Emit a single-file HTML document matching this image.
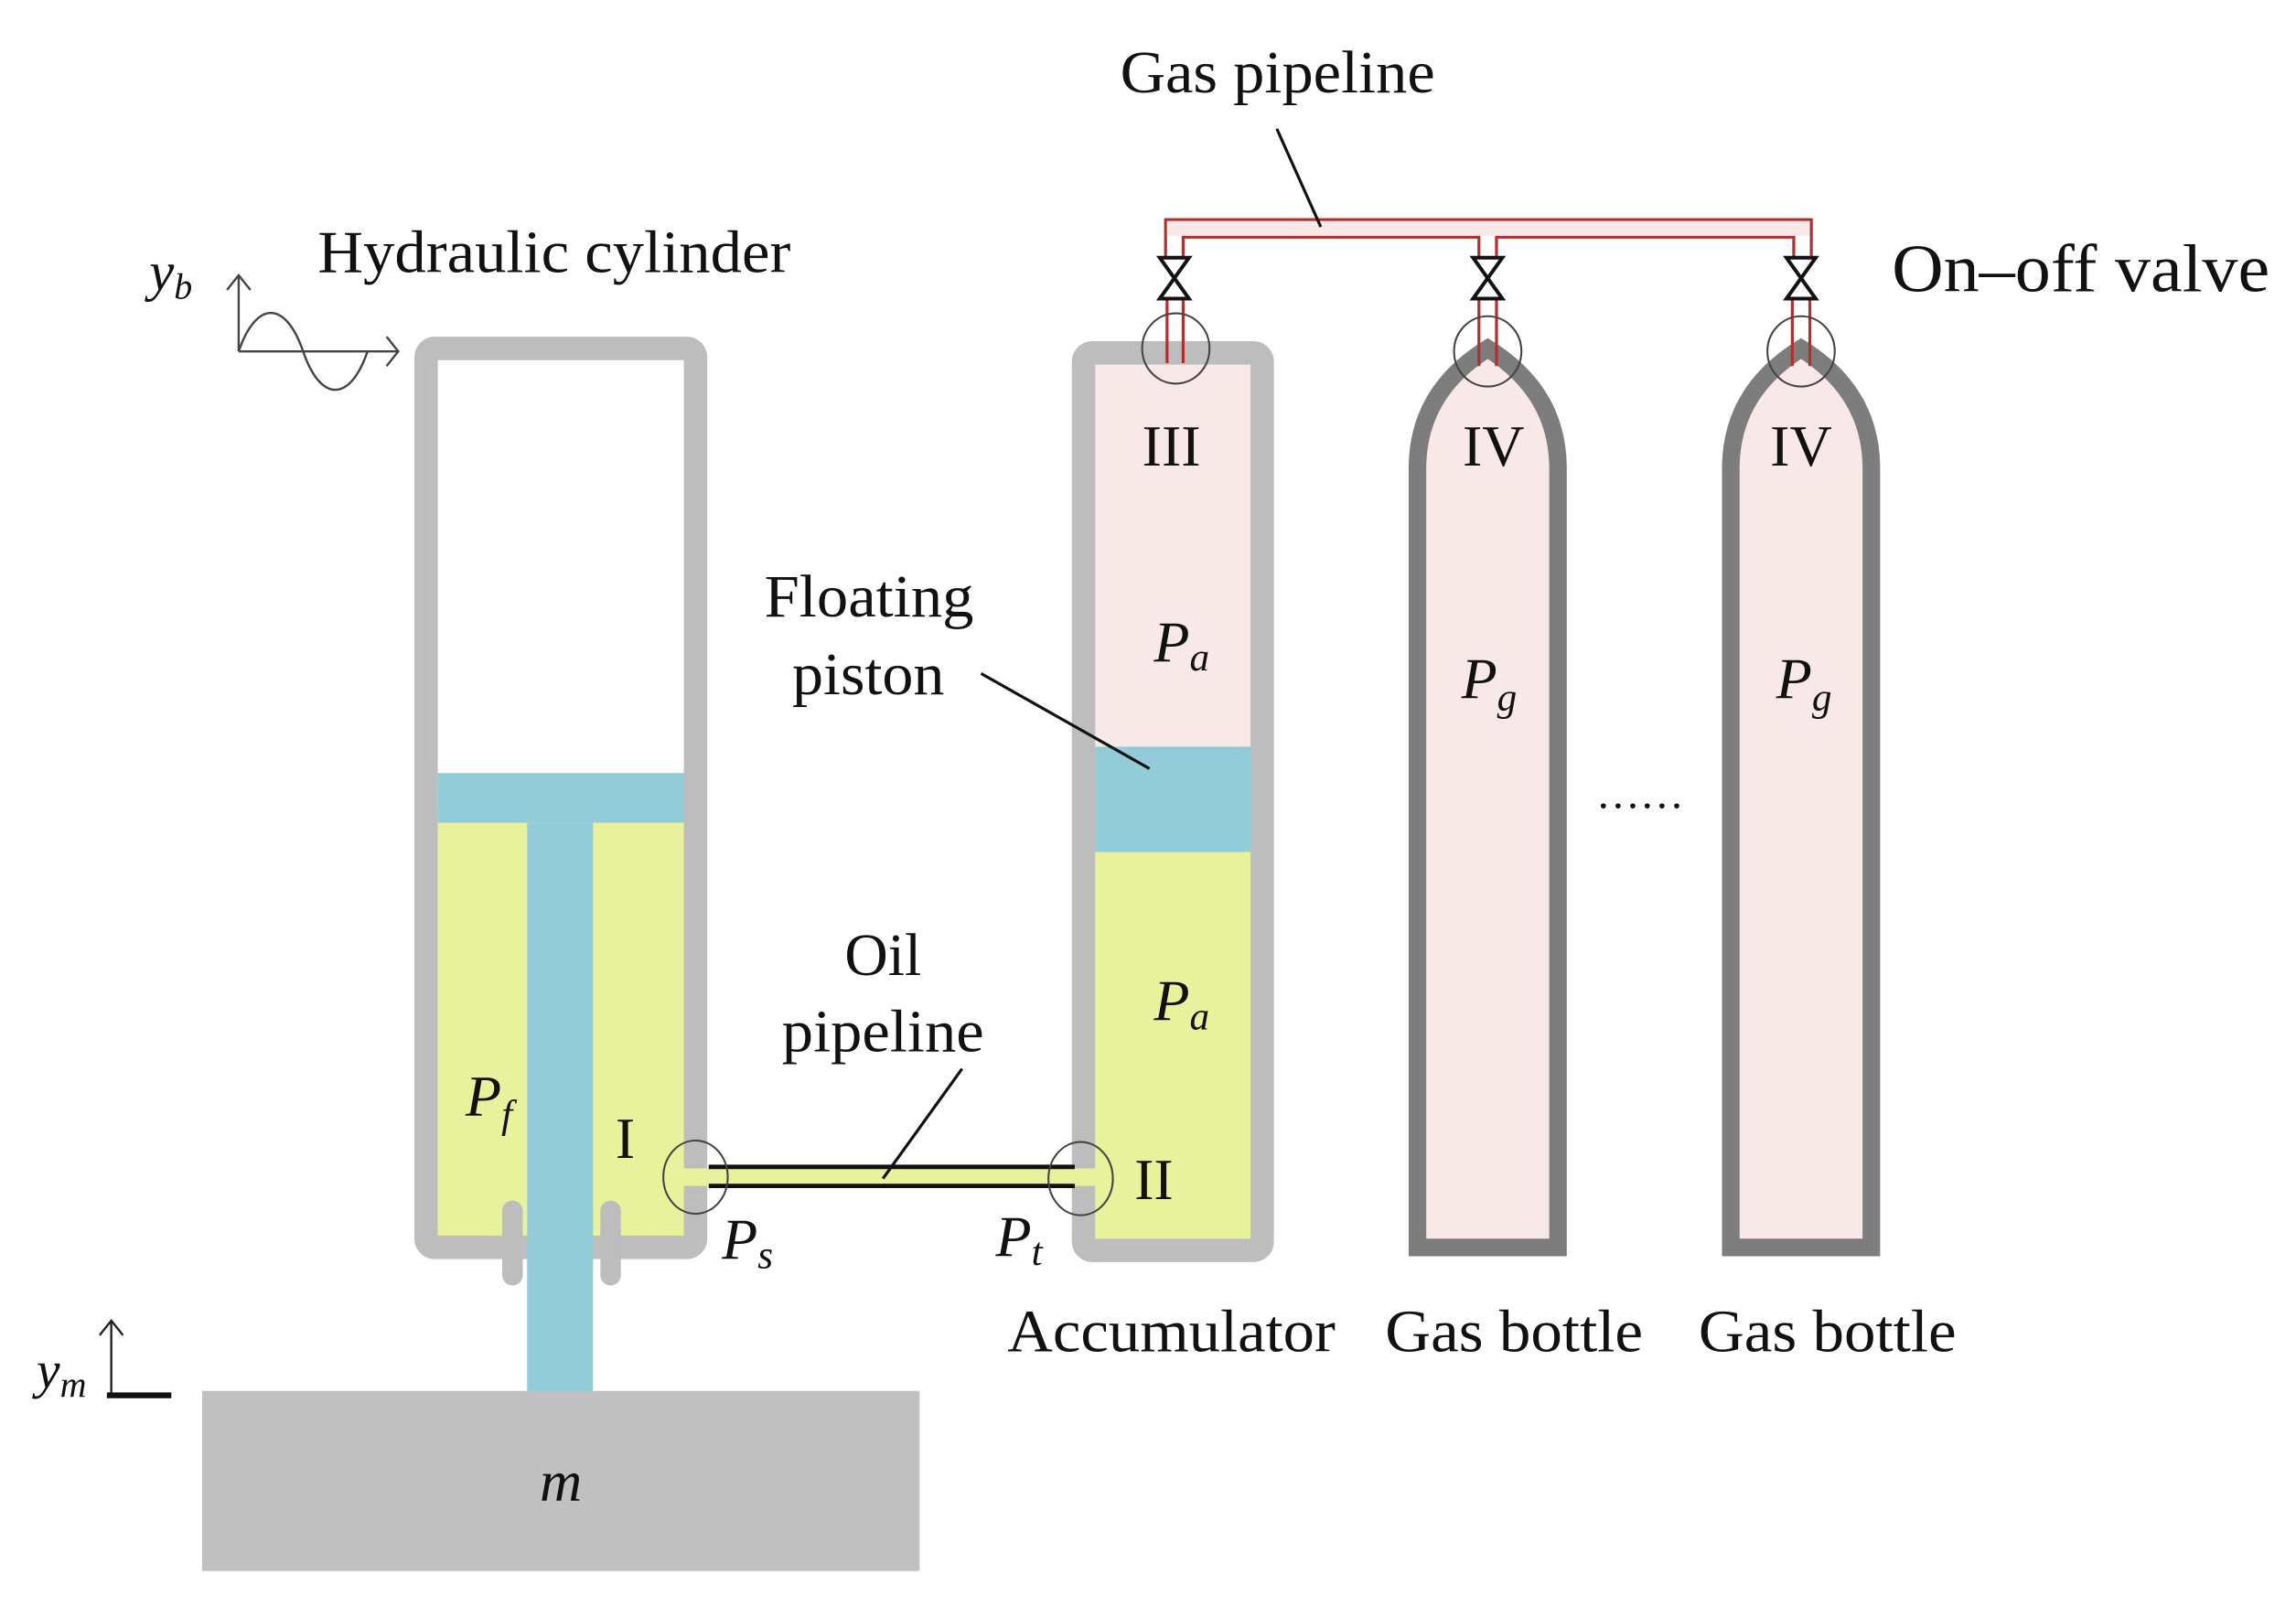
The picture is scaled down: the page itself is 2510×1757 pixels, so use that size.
<!DOCTYPE html>
<html><head><meta charset="utf-8"><style>
html,body{margin:0;padding:0;background:#fff}
svg{display:block}
text{font-family:"Liberation Serif",serif;fill:#111}
</style></head><body>
<svg width="2510" height="1757" viewBox="0 0 1568 1097.6" preserveAspectRatio="none" xmlns="http://www.w3.org/2000/svg">
<rect x="291" y="238" width="184" height="614" rx="6" fill="#fff" stroke="#bdbdbd" stroke-width="16"/>
<rect x="299" y="528" width="168" height="34" fill="#92ccd8"/>
<rect x="299" y="562" width="168" height="282" fill="#e8f19b"/>
<rect x="343" y="820" width="14" height="58" rx="7" fill="#bdbdbd"/>
<rect x="410" y="820" width="14" height="58" rx="7" fill="#bdbdbd"/>
<rect x="360" y="562" width="45" height="390" fill="#92ccd8"/>
<rect x="138" y="950" width="490" height="123" fill="#c0c0c0"/>
<text x="383" y="1025" font-size="40" font-style="italic" text-anchor="middle">m</text>
<line x1="76" y1="952" x2="76" y2="902" stroke="#222" stroke-width="1.5"/>
<polyline points="68,912 76,902 84,912" fill="none" stroke="#222" stroke-width="1.5"/>
<line x1="73" y1="953" x2="117" y2="953" stroke="#111" stroke-width="4"/>
<text x="25" y="948" font-size="36" font-style="italic">y<tspan font-size="25" dy="6">m</tspan></text>
<line x1="163" y1="240" x2="272" y2="240" stroke="#444" stroke-width="1.5"/>
<polyline points="264,230 272,240 264,250" fill="none" stroke="#444" stroke-width="1.5"/>
<line x1="163" y1="240" x2="163" y2="188" stroke="#444" stroke-width="1.5"/>
<polyline points="155,198 163,188 171,198" fill="none" stroke="#444" stroke-width="1.5"/>
<path d="M163,240 C175,205 195,205 207,240 C219,275 239,275 251,240" fill="none" stroke="#444" stroke-width="1.5"/>
<text x="102" y="198" font-size="38" font-style="italic">y<tspan font-size="25" dy="6">b</tspan></text>
<text x="217" y="186" font-size="41" textLength="323" lengthAdjust="spacingAndGlyphs">Hydraulic cylinder</text>
<rect x="740" y="241" width="122" height="613" rx="6" fill="#f8e8e8" stroke="#bdbdbd" stroke-width="16"/>
<rect x="748" y="510" width="106" height="72" fill="#92ccd8"/>
<rect x="748" y="582" width="106" height="264" fill="#e8f19b"/>
<path d="M968,852 L968,320 Q968,268 1016,238 Q1064,268 1064,320 L1064,852 Z" fill="#f8e8e8" stroke="#7d7d7d" stroke-width="12"/>
<path d="M1182,852 L1182,320 Q1182,268 1230,238 Q1278,268 1278,320 L1278,852 Z" fill="#f8e8e8" stroke="#7d7d7d" stroke-width="12"/>
<path d="M796,175 L796,150 L1237,150 L1237,175" fill="none" stroke="#b03030" stroke-width="2"/>
<path d="M808,175 L808,162 L1010,162 L1010,175 M1022,175 L1022,162 L1225,162 L1225,175" fill="none" stroke="#b03030" stroke-width="2"/>
<rect x="797" y="151" width="439" height="10" fill="#f8e8e8"/>
<g fill="none" stroke="#b03030" stroke-width="2">
<path d="M797,205 L797,248 M808,205 L808,248"/>
<path d="M1010,205 L1010,250 M1022,205 L1022,250"/>
<path d="M1224,205 L1224,250 M1236,205 L1236,250"/>
</g>
<g fill="#fff" stroke="#111" stroke-width="2.5">
<path d="M792,176 L812,176 L792,204 L812,204 Z"/>
<path d="M1006,176 L1026,176 L1006,204 L1026,204 Z"/>
<path d="M1220,176 L1240,176 L1220,204 L1240,204 Z"/>
</g>
<g fill="none" stroke="#444" stroke-width="1.3">
<ellipse cx="803" cy="238" rx="23" ry="24"/>
<ellipse cx="1016" cy="240" rx="23" ry="24"/>
<ellipse cx="1230" cy="240" rx="23" ry="24"/>
</g>
<rect x="460" y="798" width="290" height="12" fill="#e8f19b"/>
<line x1="484" y1="797" x2="734" y2="797" stroke="#111" stroke-width="3"/>
<line x1="484" y1="810" x2="734" y2="810" stroke="#111" stroke-width="3"/>
<g fill="none" stroke="#444" stroke-width="1.3">
<ellipse cx="475" cy="804" rx="22" ry="25"/>
<ellipse cx="738" cy="805" rx="22" ry="25"/>
</g>
<line x1="872" y1="88" x2="902" y2="155" stroke="#111" stroke-width="2"/>
<line x1="670" y1="460" x2="785" y2="525" stroke="#111" stroke-width="2"/>
<line x1="657" y1="730" x2="603" y2="805" stroke="#111" stroke-width="2"/>
<text x="765" y="63" font-size="41" textLength="215" lengthAdjust="spacingAndGlyphs">Gas pipeline</text>
<text x="1292" y="199" font-size="46" textLength="258" lengthAdjust="spacingAndGlyphs">On–off valve</text>
<text x="522" y="421" font-size="41" textLength="143" lengthAdjust="spacingAndGlyphs">Floating</text>
<text x="541" y="474" font-size="41" textLength="104" lengthAdjust="spacingAndGlyphs">piston</text>
<text x="603" y="666" font-size="41" text-anchor="middle">Oil</text>
<text x="534" y="718" font-size="41" textLength="138" lengthAdjust="spacingAndGlyphs">pipeline</text>
<text x="800" y="318" font-size="40" text-anchor="middle">III</text>
<text x="1020" y="318" font-size="40" text-anchor="middle">IV</text>
<text x="1230" y="318" font-size="40" text-anchor="middle">IV</text>
<text x="788" y="452" font-size="40" font-style="italic">P<tspan font-size="27" dy="6">a</tspan></text>
<text x="788" y="697" font-size="40" font-style="italic">P<tspan font-size="27" dy="6">a</tspan></text>
<text x="998" y="477" font-size="40" font-style="italic">P<tspan font-size="27" dy="8">g</tspan></text>
<text x="1213" y="477" font-size="40" font-style="italic">P<tspan font-size="27" dy="8">g</tspan></text>
<text x="1120" y="552" font-size="30" text-anchor="middle">……</text>
<text x="318" y="762" font-size="40" font-style="italic">P<tspan font-size="27" dy="8">f</tspan></text>
<text x="427" y="791" font-size="40" text-anchor="middle">I</text>
<text x="788" y="819" font-size="40" text-anchor="middle">II</text>
<text x="493" y="860" font-size="40" font-style="italic">P<tspan font-size="27" dy="6">s</tspan></text>
<text x="680" y="858" font-size="40" font-style="italic">P<tspan font-size="27" dy="6">t</tspan></text>
<text x="688" y="923" font-size="41" textLength="224" lengthAdjust="spacingAndGlyphs">Accumulator</text>
<text x="946" y="923" font-size="41" textLength="176" lengthAdjust="spacingAndGlyphs">Gas bottle</text>
<text x="1160" y="923" font-size="41" textLength="176" lengthAdjust="spacingAndGlyphs">Gas bottle</text>
</svg>
</body></html>
